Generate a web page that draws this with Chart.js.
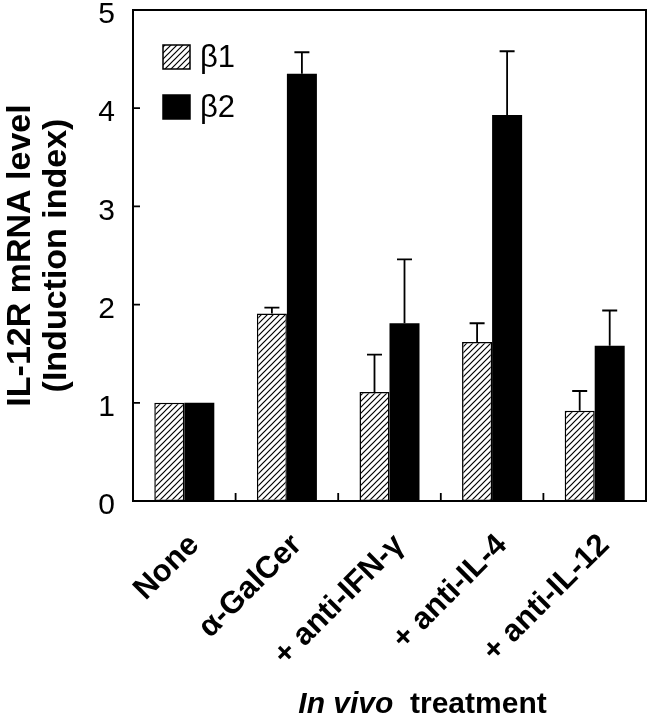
<!DOCTYPE html>
<html>
<head>
<meta charset="utf-8">
<script src="https://cdn.jsdelivr.net/npm/chart.js@4.4.1/dist/chart.umd.min.js"></script>
<style>
  html, body { margin: 0; padding: 0; background: #fff; }
</style>
</head>
<body>
<canvas id="chart" width="650" height="720"></canvas>
<script>
// IL-12R mRNA induction
const categories = ['None', 'α-GalCer', '+ anti-IFN-γ', '+ anti-IL-4', '+ anti-IL-12'];
const beta1 = [1.0, 1.91, 1.11, 1.62, 0.92];
const beta2 = [1.0, 4.35, 1.81, 3.93, 1.58];
const beta1Upper = [null, 1.97, 1.49, 1.81, 1.12];   // top of error bar
const beta2Upper = [null, 4.57, 2.46, 4.58, 1.94];
const seriesNames = ['β1', 'β2'];
const yTicks = [0, 1, 2, 3, 4, 5];

const FONT = "'Liberation Sans', Arial, Helvetica, sans-serif";

// diagonal hatch for the beta1 bars
function makeHatch() {
    const c = document.createElement('canvas');
    c.width = 6; c.height = 6;
    const g = c.getContext('2d');
    g.fillStyle = '#fff';
    g.fillRect(0, 0, 6, 6);
    g.strokeStyle = '#000';
    g.lineWidth = 1.2;
    g.beginPath();
    g.moveTo(-1, 7); g.lineTo(7, -1);
    g.moveTo(-1, 1); g.lineTo(1, -1);
    g.moveTo(5, 7); g.lineTo(7, 5);
    g.stroke();
    return g.createPattern(c, 'repeat');
}
const hatch = makeHatch();

const frameAndErrors = {
    id: 'frameAndErrors',
    afterDatasetsDraw(chart) {
        const ctx = chart.ctx;
        const a = chart.chartArea;
        const x = chart.scales.x, y = chart.scales.y;
        ctx.save();
        ctx.strokeStyle = '#000';

        // error bars (upper only, with cap)
        const uppers = [beta1Upper, beta2Upper];
        ctx.lineWidth = 1.8;
        uppers.forEach((arr, di) => {
            const meta = chart.getDatasetMeta(di);
            arr.forEach((v, i) => {
                if (v == null) return;
                const bar = meta.data[i];
                const yTop = y.getPixelForValue(v);
                ctx.beginPath();
                ctx.moveTo(bar.x, bar.y);
                ctx.lineTo(bar.x, yTop);
                ctx.moveTo(bar.x - 7.5, yTop);
                ctx.lineTo(bar.x + 7.5, yTop);
                ctx.stroke();
            });
        });

        // frame
        ctx.lineWidth = 2;
        ctx.strokeRect(a.left, a.top, a.right - a.left, a.bottom - a.top);

        // inward ticks
        ctx.lineWidth = 1.8;
        ctx.beginPath();
        yTicks.forEach(t => {
            if (t === yTicks[0] || t === yTicks[yTicks.length - 1]) return;
            const py = y.getPixelForValue(t);
            ctx.moveTo(a.left, py);
            ctx.lineTo(a.left + 7, py);
        });
        for (let i = 1; i < categories.length; i++) {
            const px = (x.getPixelForValue(i - 1) + x.getPixelForValue(i)) / 2;
            ctx.moveTo(px, a.bottom);
            ctx.lineTo(px, a.bottom - 8);
        }
        ctx.stroke();

        // legend inside the plot
        const fills = [hatch, '#000'];
        ctx.font = '31px ' + FONT;
        ctx.textBaseline = 'middle';
        seriesNames.forEach((name, i) => {
            const bx = a.left + 30, by = a.top + 35 + i * 50;
            ctx.fillStyle = fills[i];
            ctx.fillRect(bx, by, 27, 24);
            ctx.lineWidth = 1.5;
            ctx.strokeRect(bx, by, 27, 24);
            ctx.fillStyle = '#000';
            ctx.fillText(name, bx + 37, by + 13);
        });

        // x axis title: italic "In vivo" + "treatment"
        const part1 = 'In vivo', part2 = '  treatment';
        ctx.textBaseline = 'alphabetic';
        ctx.font = 'italic bold 30px ' + FONT;
        const w1 = ctx.measureText(part1).width;
        ctx.font = 'bold 30px ' + FONT;
        const w2 = ctx.measureText(part2).width;
        const cx = (a.left + a.right) / 2 + 33;
        const sx = cx - (w1 + w2) / 2;
        ctx.font = 'italic bold 30px ' + FONT;
        ctx.fillText(part1, sx, 713);
        ctx.font = 'bold 30px ' + FONT;
        ctx.fillText(part2, sx + w1, 713);

        ctx.restore();
    }
};

new Chart(document.getElementById('chart'), {
    type: 'bar',
    data: {
        labels: categories,
        datasets: [
            {
                label: seriesNames[0],
                data: beta1,
                backgroundColor: hatch,
                borderColor: '#000',
                borderWidth: 1.5,
                borderSkipped: false
            },
            {
                label: seriesNames[1],
                data: beta2,
                backgroundColor: '#000',
                borderColor: '#000',
                borderWidth: 0
            }
        ]
    },
    options: {
        responsive: false,
        animation: false,
        devicePixelRatio: 1,
        layout: { padding: { top: 10, right: 4, left: 0, bottom: 0 } },
        plugins: {
            legend: { display: false },
            tooltip: { enabled: false }
        },
        datasets: {
            bar: { barPercentage: 1.0, categoryPercentage: 0.585 }
        },
        scales: {
            x: {
                grid: { display: false, drawTicks: false },
                border: { display: false },
                ticks: {
                    color: '#000',
                    font: { family: FONT, size: 31, weight: 'bold' },
                    maxRotation: 45,
                    minRotation: 45,
                    padding: 26,
                    labelOffset: 10,
                    autoSkip: false
                },
                afterFit(scale) {
                    scale.height = 219;
                    scale.paddingLeft = 0;
                    scale.paddingRight = 0;
                }
            },
            y: {
                min: 0,
                max: 5,
                grid: { display: false, drawTicks: false },
                border: { display: false },
                ticks: {
                    stepSize: 1,
                    color: '#000',
                    font: { family: FONT, size: 30 },
                    padding: 18,
                    labelOffset: 5
                },
                title: {
                    display: true,
                    text: ['IL-12R mRNA level', '(Induction index)'],
                    color: '#000',
                    font: { family: FONT, size: 34, weight: 'bold', lineHeight: 1.05 },
                    padding: { top: 3, bottom: 0 }
                },
                afterFit(scale) {
                    scale.width = 133;
                    scale.paddingTop = 0;
                    scale.paddingBottom = 0;
                }
            }
        }
    },
    plugins: [frameAndErrors]
});
</script>
</body>
</html>
